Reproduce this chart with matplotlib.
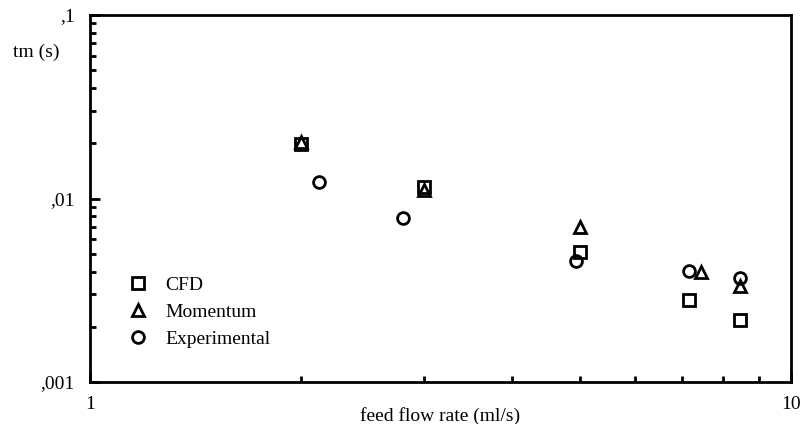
import matplotlib.pyplot as plt
from matplotlib.ticker import FuncFormatter, LogLocator

plt.rcParams['font.family'] = ['Liberation Serif', 'DejaVu Serif']

# feed flow rate (ml/s) and mixing time tm (s)
cfd_q = [2.0, 3.0, 5.0, 7.15, 8.45]
cfd_tm = [0.0198, 0.0116, 0.0051, 0.0028, 0.00218]

mom_q = [2.0, 3.0, 5.0, 7.45, 8.45]
mom_tm = [0.0202, 0.0111, 0.0070, 0.0040, 0.00333]

exp_q = [2.12, 2.8, 4.93, 7.15, 8.45]
exp_tm = [0.0123, 0.0078, 0.00456, 0.00403, 0.00369]

fig = plt.figure(figsize=(8.02, 4.24), dpi=100)
ax = fig.add_axes([90 / 802, 1 - 382 / 424, 701 / 802, 367 / 424])

mk = dict(linestyle='none', markerfacecolor='none', markeredgecolor='black',
          markeredgewidth=2.0, markersize=8.5)
ax.plot(cfd_q, cfd_tm, marker='s', label='CFD', **mk)
ax.plot(mom_q, mom_tm, marker='^', label='Momentum', **mk)
ax.plot(exp_q, exp_tm, marker='o', label='Experimental', **mk)

ax.set_xscale('log')
ax.set_yscale('log')
ax.set_xlim(1, 10)
ax.set_ylim(0.001, 0.1)

fmt = FuncFormatter(lambda v, p: f"{v:g}".replace("0.", ","))
ax.xaxis.set_major_formatter(fmt)
ax.yaxis.set_major_formatter(fmt)
ax.xaxis.set_minor_locator(LogLocator(subs=range(2, 10)))
ax.yaxis.set_minor_locator(LogLocator(subs=range(2, 10)))
ax.xaxis.set_minor_formatter(FuncFormatter(lambda v, p: ""))
ax.yaxis.set_minor_formatter(FuncFormatter(lambda v, p: ""))

ax.tick_params(which='both', direction='in', width=2, labelsize=14,
               top=False, right=False)
ax.tick_params(which='major', length=7)
ax.tick_params(which='minor', length=4.5)
ax.tick_params(axis='y', which='both', pad=11)
ax.tick_params(axis='x', which='both', pad=10)
for s in ax.spines.values():
    s.set_linewidth(2)

ax.set_ylabel('tm (s)', fontsize=14, rotation=0, ha='center', va='center')
ax.yaxis.set_label_coords(-0.077, 0.899)
ax.set_xlabel('feed flow rate (ml/s)', fontsize=14, va='top')
ax.xaxis.set_label_coords(0.5, -0.067)

ax.legend(loc='upper left', bbox_to_anchor=(0.055, 0.287), frameon=False,
          fontsize=14, borderpad=0, borderaxespad=0, handlelength=1.0,
          handletextpad=0.9, labelspacing=0.48, numpoints=1)

fig.savefig('out.png', dpi=100)
